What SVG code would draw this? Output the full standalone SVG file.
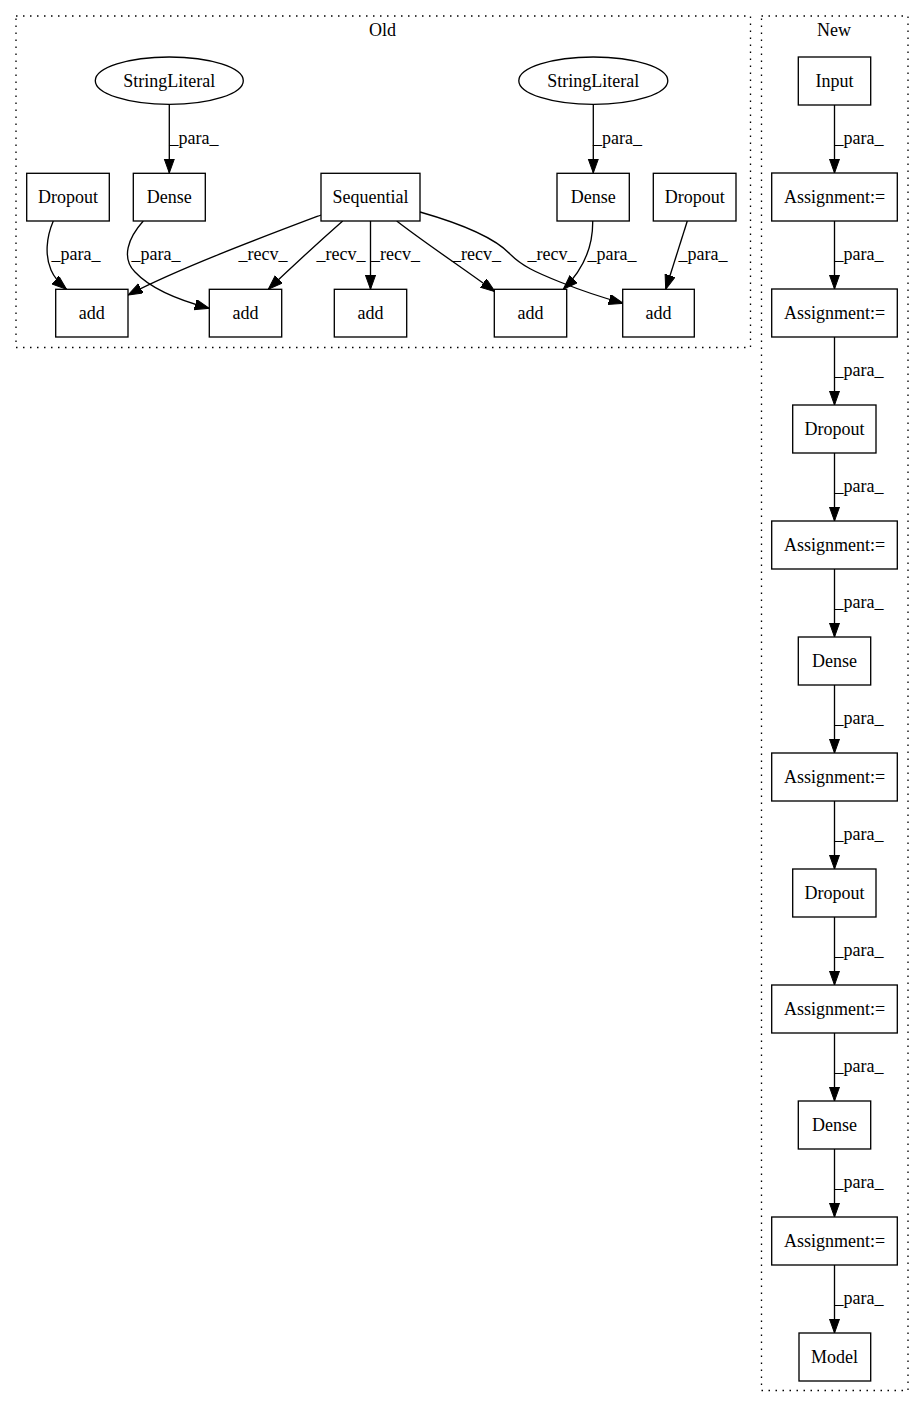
<svg xmlns="http://www.w3.org/2000/svg" width="924" height="1408" viewBox="0 0 924 1408">
<defs>
<marker id="ah" markerUnits="userSpaceOnUse" markerWidth="18" markerHeight="14" refX="14.5" refY="5.2" orient="auto">
<path d="M0,0 L14.5,5.2 L0,10.4 Z" fill="#000" stroke="#000" stroke-width="1"/>
</marker>
<style>
text{font-family:"Liberation Serif","Times New Roman",serif;font-size:18px;fill:#000;text-anchor:middle}
.n rect,.n ellipse{fill:#fff;stroke:#000;stroke-width:1.33}
.c{fill:none;stroke:#000;stroke-width:1.33;stroke-dasharray:1.5,5.5}
#edges path{fill:none;stroke:#000;stroke-width:1.33;marker-end:url(#ah)}
</style>
</defs>
<rect width="924" height="1408" fill="#fff"/>
<g id="cluster_old"><rect class="c" x="16" y="16" width="734.5" height="331.5"/><text x="382.5" y="36">Old</text></g>
<g id="cluster_new"><rect class="c" x="761.5" y="16" width="146.5" height="1374.5"/><text x="834" y="36">New</text></g>

<g id="edges">
<path d="M169.3,104.5 L169.3,173"/>
<path d="M593.3,104.5 L593.3,173"/>
<path d="M53.3,221 C46,238 45,256 51,270 C54,277 59,283 66.5,289.3"/>
<path d="M143.3,221 C128,238 121,258 135,272 C150,288 178,300 209.3,308.3"/>
<path d="M321,215 C260,238 180,268 128,295"/>
<path d="M342.7,221 C320,241 296,263 268.3,289.3"/>
<path d="M370.5,221 L370.5,289.3"/>
<path d="M396.7,221 C425,243 460,266 495,291.7"/>
<path d="M420,212 C455,222 493,236 510,254 C522,266 535,272 560,282 C580,290 600,297 623.3,303.3"/>
<path d="M592.7,221 C593,240 588,265 563.3,289.3"/>
<path d="M687.3,221 L665.7,289.3"/>
<path d="M834.5,105 L834.5,173"/>
<path d="M834.5,221 L834.5,289"/>
<path d="M834.5,337 L834.5,405"/>
<path d="M834.5,453 L834.5,521"/>
<path d="M834.5,569 L834.5,637"/>
<path d="M834.5,685 L834.5,753"/>
<path d="M834.5,801 L834.5,869"/>
<path d="M834.5,917 L834.5,985"/>
<path d="M834.5,1033 L834.5,1101"/>
<path d="M834.5,1149 L834.5,1217"/>
<path d="M834.5,1265 L834.5,1333"/>
</g>
<g id="edge_labels">
<text x="194" y="144">_para_</text>
<text x="617.5" y="144">_para_</text>
<text x="76" y="260">_para_</text>
<text x="156" y="260">_para_</text>
<text x="263" y="260">_recv_</text>
<text x="341" y="260">_recv_</text>
<text x="395.5" y="260">_recv_</text>
<text x="476.5" y="260">_recv_</text>
<text x="552" y="260">_recv_</text>
<text x="612" y="260">_para_</text>
<text x="703" y="260">_para_</text>
<text x="859" y="144">_para_</text>
<text x="859" y="260">_para_</text>
<text x="859" y="376">_para_</text>
<text x="859" y="492">_para_</text>
<text x="859" y="608">_para_</text>
<text x="859" y="724">_para_</text>
<text x="859" y="840">_para_</text>
<text x="859" y="956">_para_</text>
<text x="859" y="1072">_para_</text>
<text x="859" y="1188">_para_</text>
<text x="859" y="1304">_para_</text>
</g>

<g id="sl1" class="n"><ellipse cx="169.3" cy="80.7" rx="74" ry="23.7"/><text x="169.3" y="86.5">StringLiteral</text></g>
<g id="sl2" class="n"><ellipse cx="593.3" cy="80.7" rx="74.5" ry="23.7"/><text x="593.3" y="86.5">StringLiteral</text></g>
<g id="dropout_old1" class="n"><rect x="26.7" y="173.3" width="82.6" height="47.7"/><text x="68" y="203">Dropout</text></g>
<g id="dense_old1" class="n"><rect x="133.3" y="173.3" width="72" height="47.7"/><text x="169.3" y="203">Dense</text></g>
<g id="sequential" class="n"><rect x="321" y="173.3" width="99" height="47.7"/><text x="370.5" y="203">Sequential</text></g>
<g id="dense_old2" class="n"><rect x="557" y="173.3" width="72.3" height="47.7"/><text x="593.2" y="203">Dense</text></g>
<g id="dropout_old2" class="n"><rect x="653.3" y="173.3" width="82.7" height="47.7"/><text x="694.7" y="203">Dropout</text></g>
<g id="add1" class="n"><rect x="55.7" y="289.3" width="72.3" height="47.7"/><text x="91.8" y="319">add</text></g>
<g id="add2" class="n"><rect x="209.3" y="289.3" width="72.4" height="47.7"/><text x="245.5" y="319">add</text></g>
<g id="add3" class="n"><rect x="334.3" y="289.3" width="72.4" height="47.7"/><text x="370.5" y="319">add</text></g>
<g id="add4" class="n"><rect x="494.3" y="289.3" width="72.4" height="47.7"/><text x="530.5" y="319">add</text></g>
<g id="add5" class="n"><rect x="622.7" y="289.3" width="71.6" height="47.7"/><text x="658.5" y="319">add</text></g>

<g id="input" class="n"><rect x="798.3" y="57" width="72.4" height="48"/><text x="834.5" y="87">Input</text></g>
<g id="assign1" class="n"><rect x="771.7" y="173" width="125.6" height="48"/><text x="834.5" y="203">Assignment:=</text></g>
<g id="assign2" class="n"><rect x="771.7" y="289" width="125.6" height="48"/><text x="834.5" y="319">Assignment:=</text></g>
<g id="dropout_new1" class="n"><rect x="792.7" y="405" width="83.3" height="48"/><text x="834.5" y="435">Dropout</text></g>
<g id="assign3" class="n"><rect x="771.7" y="521" width="125.6" height="48"/><text x="834.5" y="551">Assignment:=</text></g>
<g id="dense_new1" class="n"><rect x="798.3" y="637" width="72.4" height="48"/><text x="834.5" y="667">Dense</text></g>
<g id="assign4" class="n"><rect x="771.7" y="753" width="125.6" height="48"/><text x="834.5" y="783">Assignment:=</text></g>
<g id="dropout_new2" class="n"><rect x="792.7" y="869" width="83.3" height="48"/><text x="834.5" y="899">Dropout</text></g>
<g id="assign5" class="n"><rect x="771.7" y="985" width="125.6" height="48"/><text x="834.5" y="1015">Assignment:=</text></g>
<g id="dense_new2" class="n"><rect x="798.3" y="1101" width="72.4" height="48"/><text x="834.5" y="1131">Dense</text></g>
<g id="assign6" class="n"><rect x="771.7" y="1217" width="125.6" height="48"/><text x="834.5" y="1247">Assignment:=</text></g>
<g id="model" class="n"><rect x="799" y="1333" width="71.7" height="48"/><text x="834.5" y="1363">Model</text></g>
</svg>
